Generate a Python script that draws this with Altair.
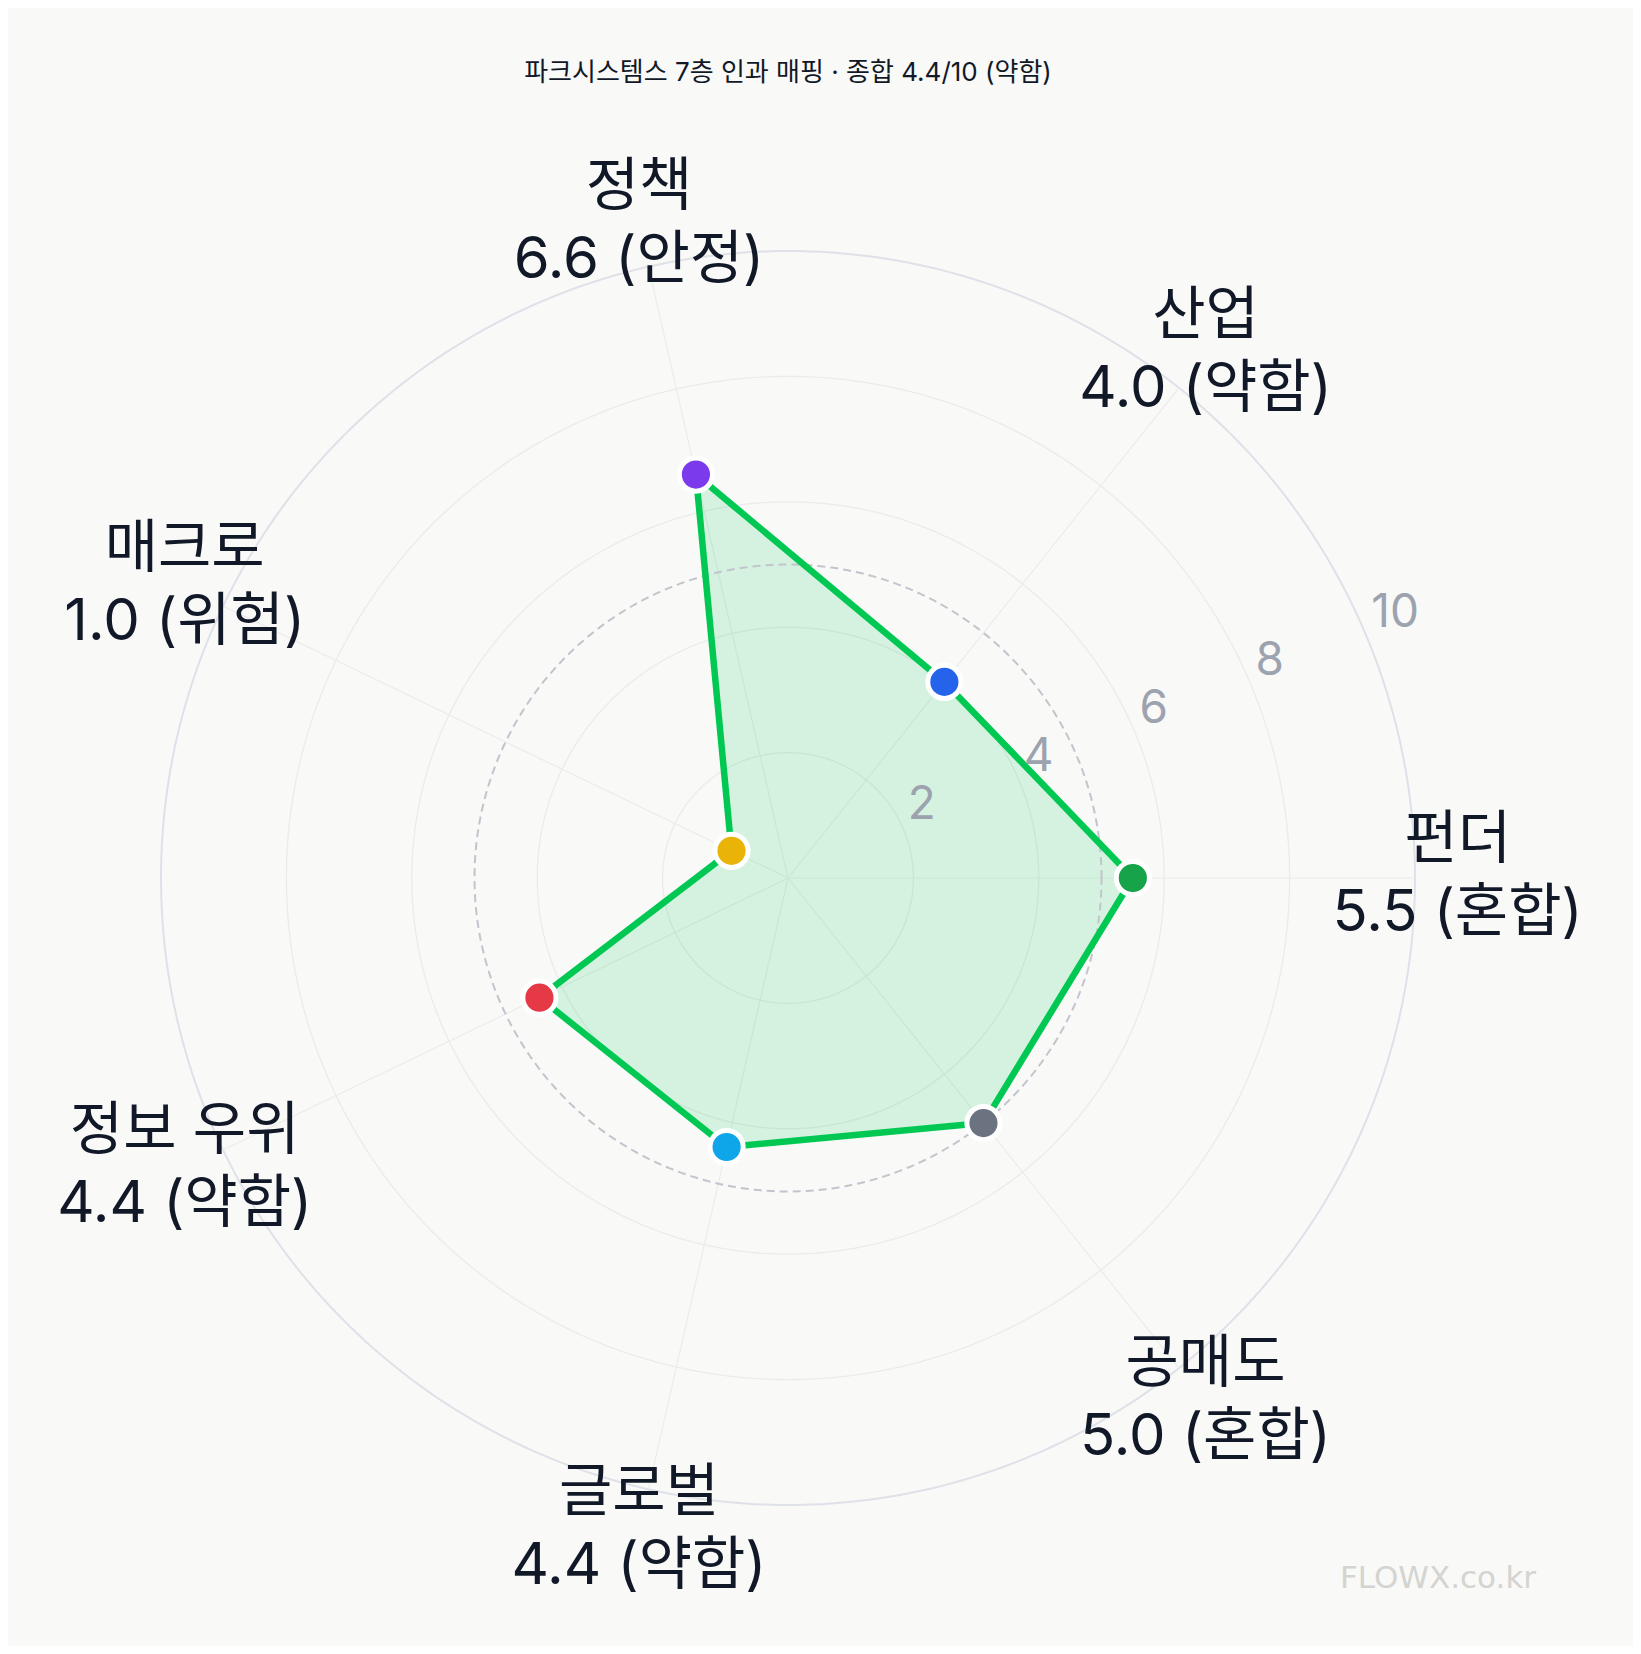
import math
import altair as alt
import pandas as pd

# ---------------- data ----------------
categories = ["펀더", "산업", "정책", "매크로", "정보 우위", "글로벌", "공매도"]
scores = [5.5, 4.0, 6.6, 1.0, 4.4, 4.4, 5.0]
statuses = ["혼합", "약함", "안정", "위험", "약함", "약함", "혼합"]
point_colors = ["#16a34a", "#2563eb", "#7c3aed", "#eab308", "#e63946", "#0ea5e9", "#6b7280"]
ring_values = [2, 4, 6, 8]
outer_value = 10
threshold_value = 5
tick_values = [2, 4, 6, 8, 10]
title_text = "파크시스템스 7층 인과 매핑 · 종합 4.4/10 (약함)"
watermark_text = "FLOWX.co.kr"

# ---------------- layout ----------------
W, H = 1625, 1638
CX, CY = 780, 870          # centre of radar in chart pixels
U = 62.7                   # pixels per score unit
LABEL_R = 10.68
TICK_ANG = math.radians(22.5)
FONT = "Inter, 'Noto Sans CJK KR', sans-serif"
BG = "#f9f9f8"

xdom = [-CX / U, (W - CX) / U]
ydom = [(CY - H) / U, CY / U]
xs = alt.Scale(domain=xdom, range=[0, W], nice=False, zero=False)
ys = alt.Scale(domain=ydom, range=[H, 0], nice=False, zero=False)

n = len(categories)
angles = [2 * math.pi * i / n for i in range(n)]

pts = pd.DataFrame({
    "cat": categories,
    "score": scores,
    "label2": [f"{s:.1f} ({st})" for s, st in zip(scores, statuses)],
    "x": [s * math.cos(a) for s, a in zip(scores, angles)],
    "y": [s * math.sin(a) for s, a in zip(scores, angles)],
    "lx": [LABEL_R * math.cos(a) for a in angles],
    "ly": [LABEL_R * math.sin(a) for a in angles],
    "sx": [outer_value * math.cos(a) for a in angles],
    "sy": [outer_value * math.sin(a) for a in angles],
    "ox": [0.0] * n,
    "oy": [0.0] * n,
    "order": list(range(n)),
})

def ring_frame(values):
    rows = []
    for v in values:
        for k in range(360):
            t = 2 * math.pi * k / 360
            rows.append({"ring": v, "x": v * math.cos(t), "y": v * math.sin(t), "k": k})
    return pd.DataFrame(rows)

X = lambda f: alt.X(f, type="quantitative", scale=xs, axis=None)
Y = lambda f: alt.Y(f, type="quantitative", scale=ys, axis=None)

inner_rings = alt.Chart(ring_frame(ring_values)).mark_line(
    stroke="#ebebeb", strokeWidth=1.3, interpolate="linear-closed"
).encode(x=X("x"), y=Y("y"), detail="ring:N", order="k:Q")

outer_ring = alt.Chart(ring_frame([outer_value])).mark_line(
    stroke="#dfe1e8", strokeWidth=2, interpolate="linear-closed"
).encode(x=X("x"), y=Y("y"), detail="ring:N", order="k:Q")

spokes = alt.Chart(pts).mark_rule(stroke="#ebebeb", strokeWidth=1.1).encode(
    x=X("ox"), y=Y("oy"), x2="sx", y2="sy"
)

poly_fill = alt.Chart(pts).mark_line(
    fill="#00c853", fillOpacity=0.15, strokeOpacity=0, interpolate="linear-closed"
).encode(x=X("x"), y=Y("y"), order="order:Q")

threshold_ring = alt.Chart(ring_frame([threshold_value])).mark_line(
    stroke="#c2c5cc", strokeWidth=2, strokeDash=[8, 5], interpolate="linear-closed"
).encode(x=X("x"), y=Y("y"), detail="ring:N", order="k:Q")

poly_line = alt.Chart(pts).mark_line(
    stroke="#00c853", strokeWidth=6.5, strokeJoin="round", interpolate="linear-closed"
).encode(x=X("x"), y=Y("y"), order="order:Q")

points = alt.Chart(pts).mark_circle(
    size=1100, opacity=1, stroke="white", strokeWidth=5
).encode(
    x=X("x"), y=Y("y"),
    fill=alt.Fill("cat:N", scale=alt.Scale(domain=categories, range=point_colors), legend=None),
)

ticks_df = pd.DataFrame({
    "t": [str(v) for v in tick_values],
    "x": [v * math.cos(TICK_ANG) for v in tick_values],
    "y": [v * math.sin(TICK_ANG) for v in tick_values],
})
tick_labels = alt.Chart(ticks_df).mark_text(
    align="left", baseline="middle", dx=4, dy=-25, font=FONT, fontSize=46, color="#9ca3af"
).encode(x=X("x"), y=Y("y"), text="t:N")

label1 = alt.Chart(pts).mark_text(
    align="center", baseline="middle", dy=-37, font=FONT, fontSize=58, color="#111827"
).encode(x=X("lx"), y=Y("ly"), text="cat:N")

label2 = alt.Chart(pts).mark_text(
    align="center", baseline="middle", dy=36, font=FONT, fontSize=58, color="#111827"
).encode(x=X("lx"), y=Y("ly"), text="label2:N")

title = alt.Chart(pd.DataFrame({"t": [title_text]})).mark_text(
    align="center", baseline="middle", font=FONT, fontSize=26, color="#111827"
).encode(x=alt.value(CX), y=alt.value(65), text="t:N")

watermark = alt.Chart(pd.DataFrame({"t": [watermark_text]})).mark_text(
    align="center", baseline="middle", font="'DejaVu Sans', sans-serif", fontSize=31, color="#d4d4d0"
).encode(x=alt.value(1430), y=alt.value(1571), text="t:N")

chart = alt.layer(
    inner_rings, outer_ring, spokes, poly_fill, threshold_ring, poly_line, points,
    tick_labels, label1, label2, title, watermark
).properties(
    width=W, height=H, background=BG, padding=0
).configure_view(stroke=None)

chart.save("out.html", embed_options={"renderer": "svg", "actions": False})
